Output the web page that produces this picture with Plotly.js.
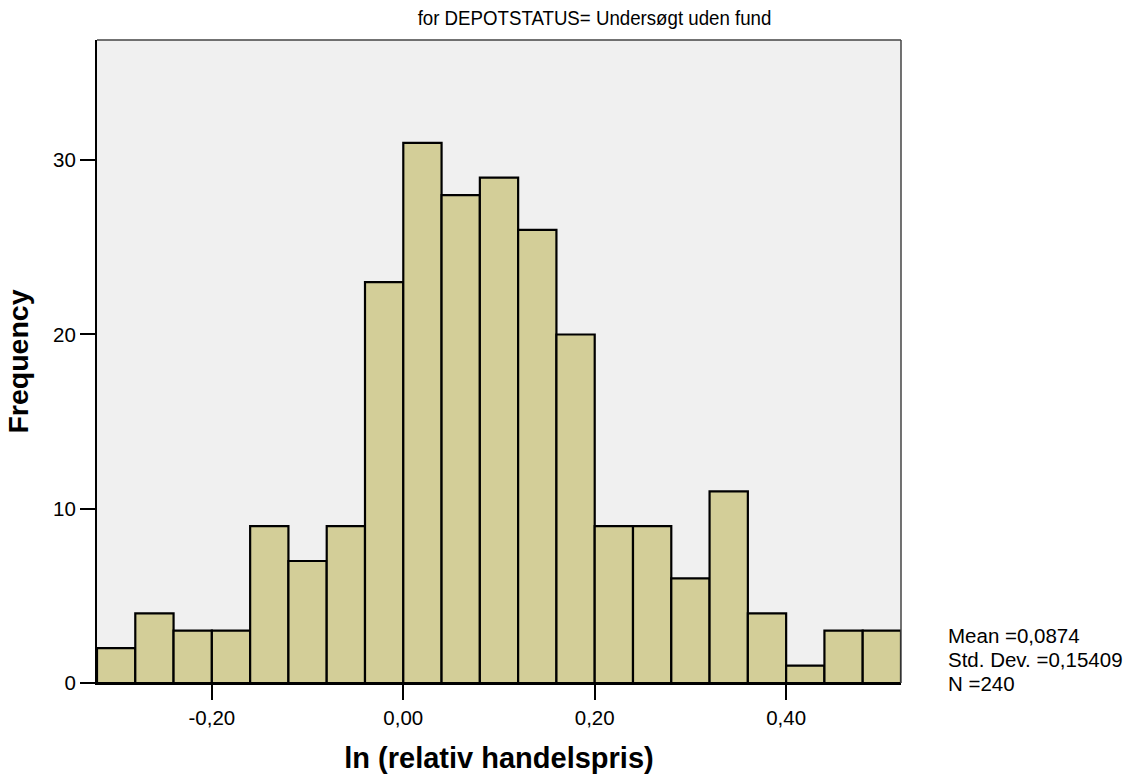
<!DOCTYPE html>
<html>
<head>
<meta charset="utf-8">
<script src="https://cdn.plot.ly/plotly-3.0.1.min.js"></script>
<style>
  html, body { margin: 0; padding: 0; background: #ffffff; }
  #chart { width: 1131px; height: 776px; }
</style>
</head>
<body>
<div id="chart"></div>
<script>
// Histogram bins of ln(relative trade price), width 0.04
const binStarts = [-0.32, -0.28, -0.24, -0.20, -0.16, -0.12, -0.08, -0.04, 0.00, 0.04,
                   0.08, 0.12, 0.16, 0.20, 0.24, 0.28, 0.32, 0.36, 0.40, 0.44, 0.48];
const frequencies = [2, 4, 3, 3, 9, 7, 9, 23, 31, 28, 29, 26, 20, 9, 9, 6, 11, 4, 1, 3, 3];
const binWidth = 0.04;

const xTickValues = [-0.20, 0.00, 0.20, 0.40];
const xTickLabels = ['-0,20', '0,00', '0,20', '0,40'];
const yTickValues = [0, 10, 20, 30];
const yTickLabels = ['0', '10', '20', '30'];

const statLines = ['Mean =0,0874', 'Std. Dev. =0,15409', 'N =240'];

const centers = binStarts.map(s => s + binWidth / 2);

const trace = {
  type: 'bar',
  x: centers,
  y: frequencies,
  width: binStarts.map(() => binWidth),
  marker: { color: '#D3CE98', line: { color: '#000000', width: 2.2 } },
  hoverinfo: 'x+y'
};

const font = 'Arial, "Liberation Sans", sans-serif';

// plot area in pixels: x 97..901, y 40..683
const plotW = 804, plotH = 643;

const statAnnotations = statLines.map((line, i) => ({
  xref: 'paper', yref: 'paper',
  x: (946 - 97) / plotW, y: (683 - (635 + 24 * i)) / plotH,
  xanchor: 'left', yanchor: 'middle', align: 'left',
  showarrow: false,
  text: line,
  font: { family: font, size: 20.5, color: '#000000' }
}));

const titleCenterX = 594.5;
const titleCondense = 0.89;

const layout = {
  width: 1131,
  height: 776,
  margin: { l: 97, r: 230, t: 40, b: 93 },
  paper_bgcolor: '#ffffff',
  plot_bgcolor: '#F0F0F0',
  showlegend: false,
  bargap: 0,
  title: {
    text: 'for DEPOTSTATUS= Undersøgt uden fund',
    font: { family: font, size: 21, color: '#000000' },
    x: titleCenterX / 1131, xref: 'container', xanchor: 'center',
    y: 1 - 18 / 776, yref: 'container', yanchor: 'middle'
  },
  xaxis: {
    range: [-0.32, 0.52],
    tickvals: xTickValues,
    ticktext: xTickLabels,
    ticks: 'outside', ticklen: 15, tickwidth: 2, tickcolor: '#000000',
    showgrid: false, zeroline: false,
    showline: true, linecolor: '#000000', linewidth: 2,
    tickfont: { family: font, size: 20.5, color: '#000000' },
    title: {
      text: '<b>ln (relativ handelspris)</b>',
      font: { family: font, size: 29, color: '#000000' },
      standoff: 20
    }
  },
  yaxis: {
    range: [0, 36.9],
    tickvals: yTickValues,
    ticktext: yTickLabels,
    ticks: 'outside', ticklen: 15, tickwidth: 2, tickcolor: '#000000',
    showgrid: false, zeroline: false,
    showline: true, linecolor: '#000000', linewidth: 2,
    tickfont: { family: font, size: 20.5, color: '#000000' },
    title: {
      text: '<b>Frequency</b>',
      font: { family: font, size: 28.5, color: '#000000' },
      standoff: 16
    }
  },
  shapes: [
    { type: 'line', xref: 'paper', yref: 'paper', x0: 0, x1: 1, y0: 1, y1: 1,
      line: { color: '#444444', width: 1.5 } },
    { type: 'line', xref: 'paper', yref: 'paper', x0: 1, x1: 1, y0: 0, y1: 1,
      line: { color: '#444444', width: 1.5 } }
  ],
  annotations: statAnnotations
};

Plotly.newPlot('chart', [trace], layout, { displayModeBar: false, staticPlot: true })
  .then(gd => {
    // draw the title in a condensed width, keeping it centred
    const t = gd.querySelector('.gtitle');
    if (t) {
      const dx = titleCenterX * (1 - titleCondense);
      t.setAttribute('transform', `translate(${dx},0) scale(${titleCondense},1)`);
    }
  });
</script>
</body>
</html>
